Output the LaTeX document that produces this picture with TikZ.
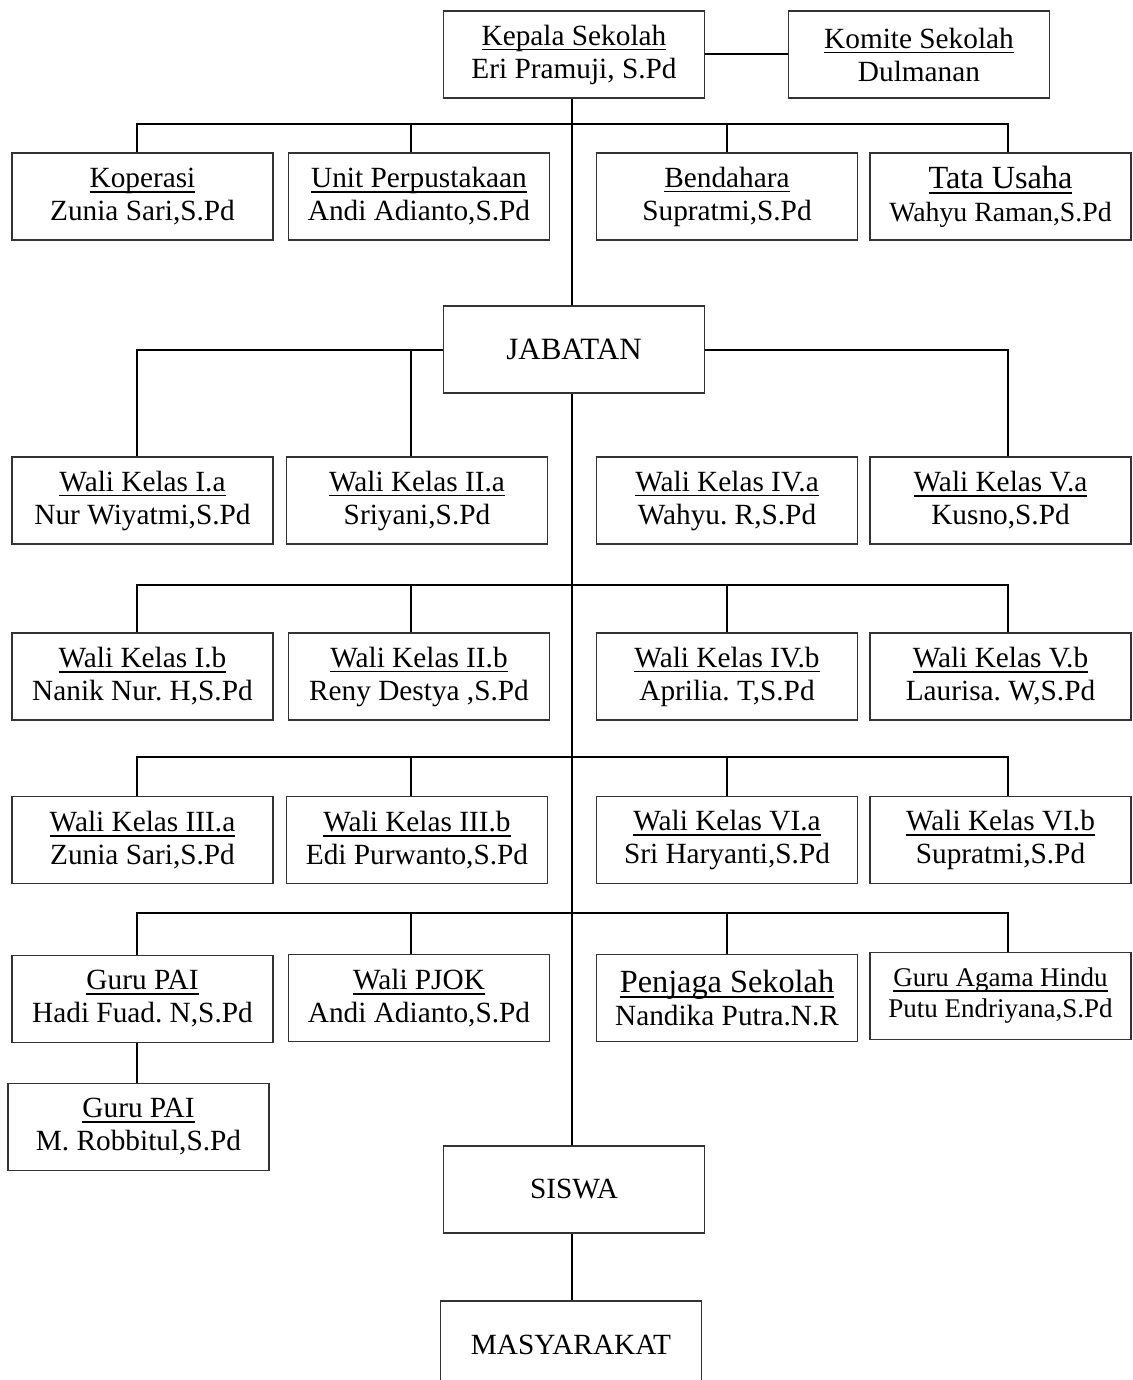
\documentclass[tikz,border=0pt]{standalone}
\usepackage{fontspec}
\setmainfont{Liberation Serif}
\usepackage{tikz}
\usetikzlibrary{positioning}
\frenchspacing
\newcommand{\undl}[1]{\leavevmode\setbox0\hbox{#1}\rlap{\vrule width\wd0 height -3.5pt depth 5.3pt}\box0}
\newcommand{\bigtitle}{\fontsize{32.3}{33}\selectfont}
\newcommand{\smallname}{\fontsize{27.8}{33}\selectfont}

\begin{document}
\begin{tikzpicture}[
x=1pt, y=-1pt,
box/.style={draw=black!80, line width=1.1pt, minimum width=261pt, minimum height=87pt, align=center, inner sep=2pt, font=\fontsize{29.3}{33}\selectfont},
smallbox/.style={box, font=\fontsize{27}{31}\selectfont},
link/.style={line width=2pt}
]
\useasboundingbox (0,0) rectangle (1132,1380);

% top
\node[box] (kepala) at (574,54.5) {\undl{Kepala Sekolah}\\Eri Pramuji, S.Pd};
\node[box] (komite) at (919,54.5) {\undl{Komite Sekolah}\\Dulmanan};

% staff
\node[box] (koperasi) at (142.5,196.5) {\undl{Koperasi}\\Zunia Sari,S.Pd};
\node[box] (perpus) at (419,196.5) {\undl{Unit Perpustakaan}\\Andi Adianto,S.Pd};
\node[box] (bendahara) at (727,196.5) {\undl{Bendahara}\\Supratmi,S.Pd};
\node[box] (tatausaha) at (1000.5,196.5) {\undl{\bigtitle Tata Usaha}\\\smallname Wahyu Raman,S.Pd};

\node[box, font=\fontsize{31}{33}\selectfont] (jabatan) at (574,349.5) {JABATAN};

% wali kelas
\node[box] (walia1) at (142.5,500.5) {\undl{Wali Kelas I.a}\\Nur Wiyatmi,S.Pd};
\node[box] (walia2) at (417,500.5) {\undl{Wali Kelas II.a}\\Sriyani,S.Pd};
\node[box] (walia4) at (727,500.5) {\undl{Wali Kelas IV.a}\\Wahyu. R,S.Pd};
\node[box] (walia5) at (1000.5,500.5) {\undl{Wali Kelas V.a}\\Kusno,S.Pd};

\node[box] (walib1) at (142.5,676.5) {\undl{Wali Kelas I.b}\\Nanik Nur. H,S.Pd};
\node[box] (walib2) at (419,676.5) {\undl{Wali Kelas II.b}\\Reny Destya ,S.Pd};
\node[box] (walib4) at (727,676.5) {\undl{Wali Kelas IV.b}\\Aprilia. T,S.Pd};
\node[box] (walib5) at (1000.5,676.5) {\undl{Wali Kelas V.b}\\Laurisa. W,S.Pd};

\node[box] (walia3) at (142.5,840) {\undl{Wali Kelas III.a}\\Zunia Sari,S.Pd};
\node[box] (walib3) at (417,840) {\undl{Wali Kelas III.b}\\Edi Purwanto,S.Pd};
\node[box] (walia6) at (727,840) {\undl{Wali Kelas VI.a}\\Sri Haryanti,S.Pd};
\node[box] (walib6) at (1000.5,840) {\undl{Wali Kelas VI.b}\\Supratmi,S.Pd};

% guru
\node[box] (gurupai) at (142.5,999) {\undl{Guru PAI}\\Hadi Fuad. N,S.Pd};
\node[box] (pjok) at (419,998) {\undl{Wali PJOK}\\Andi Adianto,S.Pd};
\node[box] (penjaga) at (727,998) {\undl{\bigtitle Penjaga Sekolah}\\Nandika Putra.N.R};
\node[smallbox] (hindu) at (1000.5,996) {\undl{Guru Agama Hindu}\\Putu Endriyana,S.Pd};
\node[box] (gurupaib) at (138.5,1127) {\undl{Guru PAI}\\M. Robbitul,S.Pd};

\node[box] (siswa) at (574,1189.5) {SISWA};
\node[box] (masyarakat) at (571,1344.5) {MASYARAKAT};

% columns of the drops and the buses
\coordinate (colA) at (137,0);
\coordinate (colB) at (411,0);
\coordinate (colC) at (727,0);
\coordinate (colD) at (1008,0);
\coordinate (spine) at (572,0);
\coordinate (bus1) at (572,124);
\coordinate (bus3) at (572,585);
\coordinate (bus4) at (572,757);
\coordinate (bus5) at (572,913);

\draw[link] (kepala.east) -- (komite.west);
\draw[link] (kepala.south -| spine) -- (jabatan.north -| spine);
\draw[link] (jabatan.south -| spine) -- (siswa.north -| spine);
\draw[link] (siswa.south -| spine) -- (masyarakat.north -| spine);

\draw[link] (koperasi.north -| colA) |- (bus1) -| (tatausaha.north -| colD);
\draw[link] (perpus.north -| colB) -- (bus1 -| colB);
\draw[link] (bendahara.north -| colC) -- (bus1 -| colC);

\draw[link] (jabatan.west) -| (walia1.north -| colA);
\draw[link] (walia2.north -| colB) -- (jabatan.west -| colB);
\draw[link] (jabatan.east) -| (walia5.north -| colD);

\draw[link] (walib1.north -| colA) |- (bus3) -| (walib5.north -| colD);
\draw[link] (walib2.north -| colB) -- (bus3 -| colB);
\draw[link] (walib4.north -| colC) -- (bus3 -| colC);

\draw[link] (walia3.north -| colA) |- (bus4) -| (walib6.north -| colD);
\draw[link] (walib3.north -| colB) -- (bus4 -| colB);
\draw[link] (walia6.north -| colC) -- (bus4 -| colC);

\draw[link] (gurupai.north -| colA) |- (bus5) -| (hindu.north -| colD);
\draw[link] (pjok.north -| colB) -- (bus5 -| colB);
\draw[link] (penjaga.north -| colC) -- (bus5 -| colC);
\draw[link] (gurupai.south -| colA) -- (gurupaib.north -| colA);
\end{tikzpicture}
\end{document}
